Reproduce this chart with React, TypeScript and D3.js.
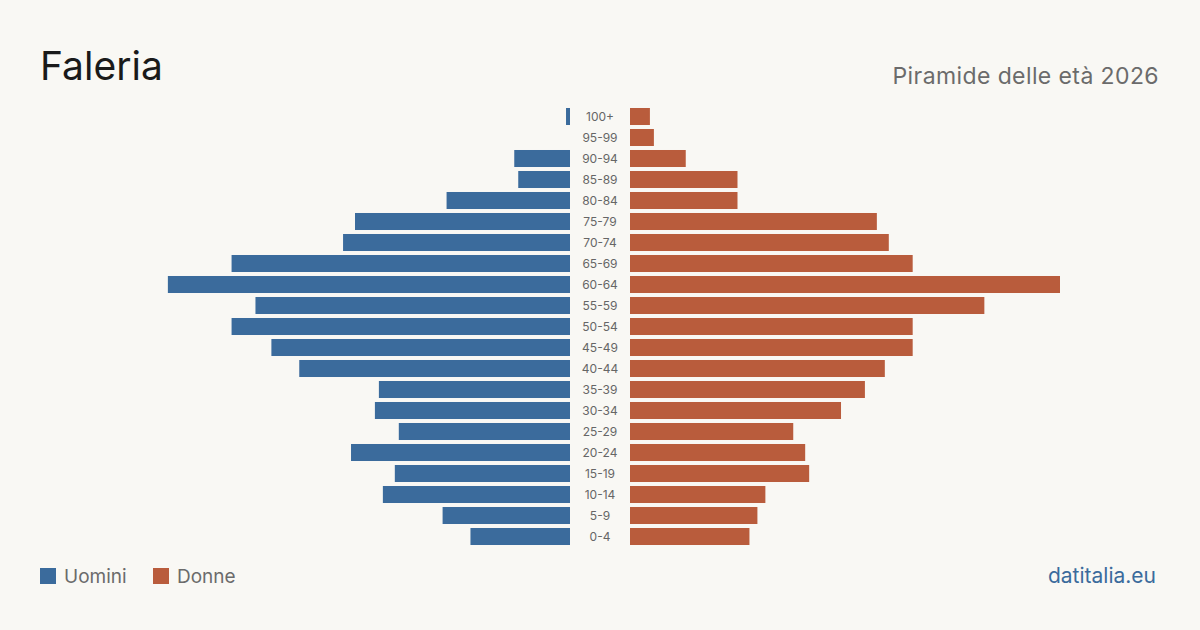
import React from 'react';
import * as d3 from 'd3';

const ageGroups = ['100+', '95-99', '90-94', '85-89', '80-84', '75-79', '70-74', '65-69', '60-64', '55-59', '50-54', '45-49', '40-44', '35-39', '30-34', '25-29', '20-24', '15-19', '10-14', '5-9', '0-4'];
const men = [1, 0, 14, 13, 31, 54, 57, 85, 101, 79, 85, 75, 68, 48, 49, 43, 55, 44, 47, 32, 25];
const women = [5, 6, 14, 27, 27, 62, 65, 71, 108, 89, 71, 71, 64, 59, 53, 41, 44, 45, 34, 32, 30];

const W = 1200;
const H = 630;
const BLUE = '#3b6b9c';
const ORANGE = '#b95c3c';
const FONT = 'Inter, "Noto Sans", sans-serif';

export default function App() {
  const ref = React.useRef<SVGSVGElement>(null);

  React.useEffect(() => {
    if (!ref.current) return;
    const svg = d3.select(ref.current);
    svg.selectAll('*').remove();

    svg.append('rect').attr('width', W).attr('height', H).attr('fill', '#f9f8f4');

    const maxVal = d3.max([...men, ...women]) as number;
    const xMen = d3.scaleLinear().domain([0, maxVal]).range([570, 140]);
    const xWomen = d3.scaleLinear().domain([0, maxVal]).range([630, 1060]);
    const y = d3.scaleBand().domain(ageGroups).range([106, 547]).paddingInner(0.19).paddingOuter(0.095);

    const g = svg.append('g');

    g.selectAll('rect.m')
      .data(men)
      .enter()
      .append('rect')
      .attr('class', 'm')
      .attr('x', d => xMen(d))
      .attr('y', (d, i) => y(ageGroups[i]) as number)
      .attr('width', d => xMen(0) - xMen(d))
      .attr('height', y.bandwidth())
      .attr('fill', BLUE);

    g.selectAll('rect.f')
      .data(women)
      .enter()
      .append('rect')
      .attr('class', 'f')
      .attr('x', xWomen(0))
      .attr('y', (d, i) => y(ageGroups[i]) as number)
      .attr('width', d => xWomen(d) - xWomen(0))
      .attr('height', y.bandwidth())
      .attr('fill', ORANGE);

    g.selectAll('text.age')
      .data(ageGroups)
      .enter()
      .append('text')
      .attr('class', 'age')
      .attr('x', 600)
      .attr('y', d => (y(d) as number) + y.bandwidth() / 2)
      .attr('dy', '0.35em')
      .attr('text-anchor', 'middle')
      .style('font-family', FONT)
      .style('font-size', '12px')
      .attr('fill', '#666')
      .text(d => d);

    // title + subtitle
    svg.append('text')
      .attr('x', 40).attr('y', 80)
      .style('font-family', FONT).style('font-size', '39px')
      .attr('fill', '#1a1a1a')
      .text('Faleria');

    svg.append('text')
      .attr('x', 1159).attr('y', 84)
      .attr('text-anchor', 'end')
      .style('font-family', FONT).style('font-size', '23px')
      .style('letter-spacing', '0.4px')
      .attr('fill', '#6b6b6b')
      .text('Piramide delle età 2026');

    // legend
    const legend = [
      { label: 'Uomini', color: BLUE, x: 40 },
      { label: 'Donne', color: ORANGE, x: 153 },
    ];
    const lg = svg.append('g');
    lg.selectAll('rect')
      .data(legend)
      .enter()
      .append('rect')
      .attr('x', d => d.x).attr('y', 568)
      .attr('width', 16).attr('height', 16)
      .attr('fill', d => d.color);
    lg.selectAll('text')
      .data(legend)
      .enter()
      .append('text')
      .attr('x', d => d.x + 24).attr('y', 583)
      .style('font-family', FONT).style('font-size', '19px')
      .attr('fill', '#6b6b6b')
      .text(d => d.label);

    svg.append('text')
      .attr('x', 1156).attr('y', 583)
      .attr('text-anchor', 'end')
      .style('font-family', FONT).style('font-size', '21px')
      .attr('fill', BLUE)
      .text('datitalia.eu');
  }, []);

  return (
    <svg ref={ref} width={W} height={H} style={{ position: 'absolute', top: 0, left: 0, display: 'block' }} />
  );
}
